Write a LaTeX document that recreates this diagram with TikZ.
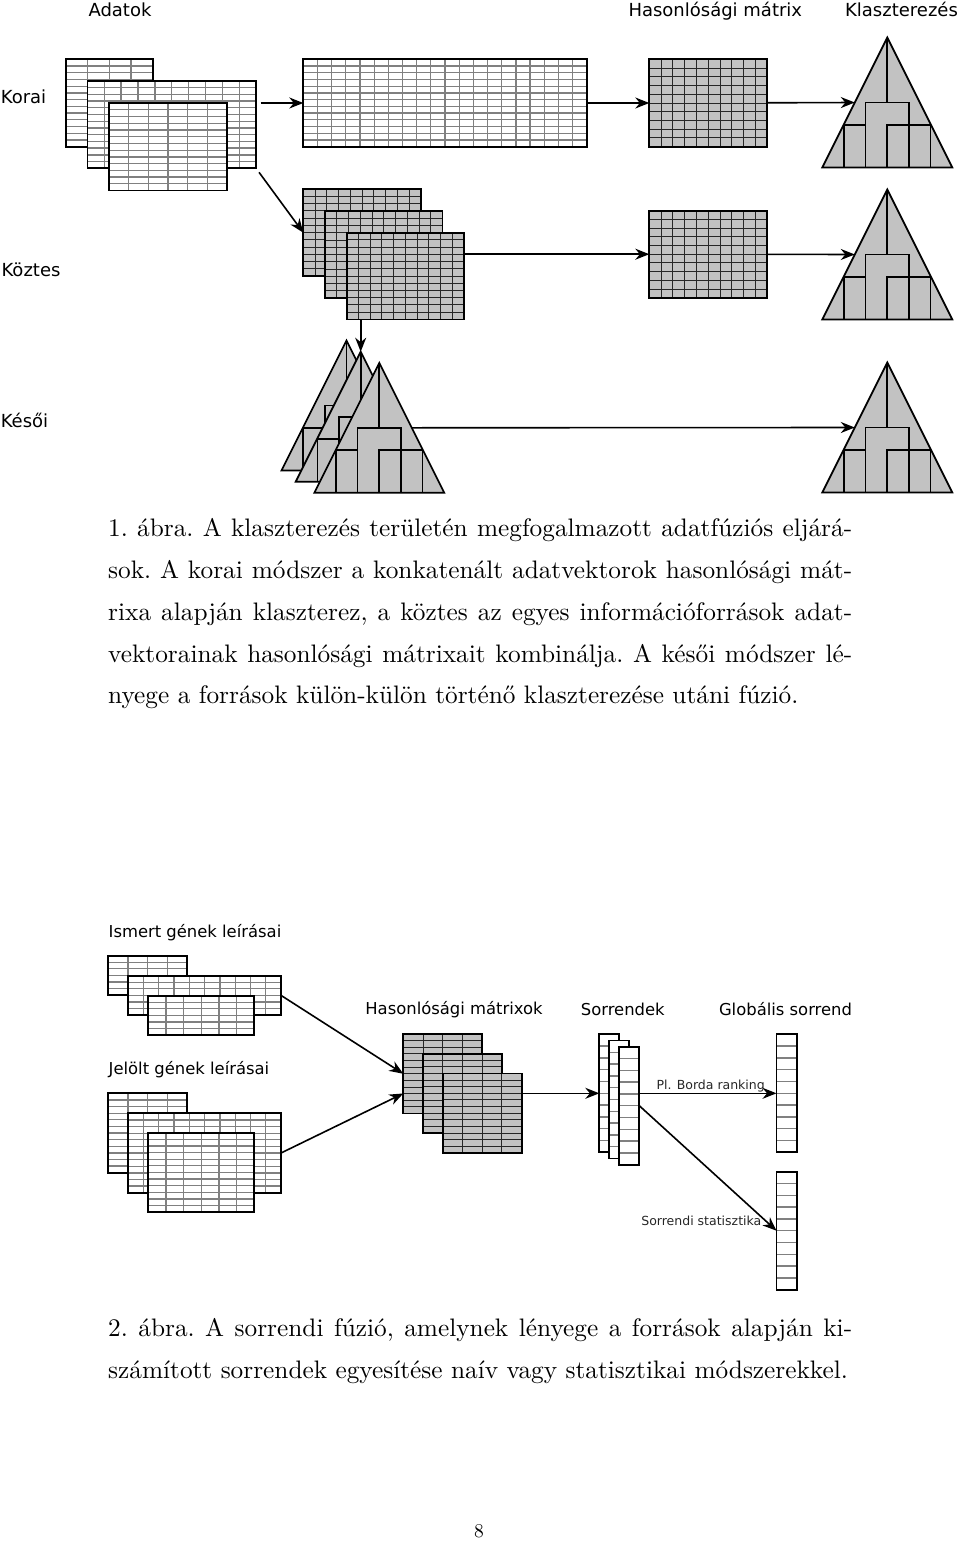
\documentclass[tikz,border=0pt]{standalone}
\usepackage{fontspec}
\usetikzlibrary{calc,positioning,arrows.meta}
\newfontfamily\figfont{DejaVu Sans}
\newfontfamily\capfont{lmroman10-regular}[Extension=.otf]
\definecolor{cellgray}{gray}{0.76}
\definecolor{linegray}{gray}{0.5}

% racsvonalak egy csomopont belsejeben: oszlopok, sorok, vonalstilus
\newcommand{\gridcells}[3]{%
  \foreach \c in {1,...,#1}
    \draw[#3] ($(path picture bounding box.north west)!{\c/#1}!(path picture bounding box.north east)$)
      -- ($(path picture bounding box.south west)!{\c/#1}!(path picture bounding box.south east)$);
  \foreach \r in {1,...,#2}
    \draw[#3] ($(path picture bounding box.north west)!{\r/#2}!(path picture bounding box.south west)$)
      -- ($(path picture bounding box.north east)!{\r/#2}!(path picture bounding box.south east)$);
}

\tikzset{
  box/.style = {draw, line width=1.7pt, inner sep=0pt, outer sep=0pt, anchor=north west},
  tbl/.style 2 args = {box, fill=white, path picture={\gridcells{#1}{#2}{linegray, line width=1.3pt}}},
  mtx/.style 2 args = {box, fill=cellgray, path picture={\gridcells{#1}{#2}{black!85, line width=1pt}}},
  arr/.style = {-{Stealth[length=14pt,width=11pt]}, line width=1.6pt},
  tree/.style = {line width=1.7pt, line join=miter},
  head/.style = {font=\figfont\fontsize{18}{20}\selectfont, inner sep=0pt, anchor=base},
  sub/.style = {font=\figfont\fontsize{16.4}{18}\selectfont, inner sep=0pt, anchor=base},
  note/.style = {font=\figfont\fontsize{12.5}{14}\selectfont, text=black!85, inner sep=0pt},
  caption/.style = {text width=744pt, align=justify, inner sep=0pt, anchor=base west,
    font=\capfont\frenchspacing\fontsize{25.3}{41.8}\selectfont},
  dendro/.pic = {
    \draw[tree, fill=cellgray] (0,0) -- (-65,130) -- (65,130) -- cycle;
    \draw[tree] (0,0) -- (0,65)
      (-21.7,130) |- (21.7,65) -- (21.7,130)
      (-43.3,130) |- (-21.7,87.5)
      (0,130) |- (43.3,87.5) -- (43.3,130);
    \coordinate (-top) at (0,0);
    \coordinate (-in) at (-32.5,65);
    \coordinate (-out) at (32.5,65);
  }
}

\begin{document}
\begin{tikzpicture}[x=1pt, y=-1pt]
  \useasboundingbox (0,0) rectangle (960,1553);

  % 1. abra
  \node[head] (adatok) at (120,16.7) {Adatok};
  \node[head] (hasonl) at (715.3,16.7) {Hasonlósági mátrix};
  \node[head] (klaszt) at (901.5,16.7) {Klaszterezés};
  \node[head] (korai) at (23.5,103.3) {Korai};
  \node[head] (koztes) at (31,276) {Köztes};
  \node[head] (kesoi) at (24.5,427.7) {Késői};

  \node[tbl={4}{13}, minimum width=87pt, minimum height=87.4pt] (k1) at (65.7,59.3) {};
  \node[tbl={10}{13}, minimum width=168.7pt, minimum height=87.4pt] (k2) [below right=21.6pt and 21.7pt of k1.north west] {};
  \node[tbl={6}{13}, minimum width=117.7pt, minimum height=87.4pt] (k3) [below right=22.2pt and 21.7pt of k2.north west] {};
  \node[tbl={20}{13}, minimum width=283.4pt, minimum height=87.4pt] (kon) at (303.3,59.3) {};
  \node[mtx={10}{10}, minimum width=118pt, minimum height=87.4pt] (sim1) at (649.3,59.3) {};

  \node[mtx={10}{12}, minimum width=117.5pt, minimum height=86.7pt] (m1) at (303.3,189.3) {};
  \node[mtx={10}{12}, minimum width=117.5pt, minimum height=86.7pt] (m2) [below right=22pt and 21.7pt of m1.north west] {};
  \node[mtx={10}{12}, minimum width=117.5pt, minimum height=86.7pt] (m3) [below right=21.4pt and 21.7pt of m2.north west] {};
  \node[mtx={10}{10}, minimum width=118pt, minimum height=87pt] (sim2) at (649.3,210.7) {};

  \pic (tri1) at (887.3,37.5) {dendro};
  \pic (tri2) at (887.3,189.5) {dendro};
  \pic (triA) at (346.5,340.5) {dendro};
  \pic (triB) at (360.7,351.7) {dendro};
  \pic (triC) at (379.3,362.8) {dendro};
  \pic (tri3) at (887.3,362.5) {dendro};

  \draw[arr, shorten <=4.5pt] (kon.west -| k2.east) -- (kon.west);
  \draw[arr] (kon) -- (sim1);
  \draw[arr] (sim1) -- (tri1-in);
  \draw[arr, shorten <=5pt] (k2.south east) -- (m1.west);
  \draw[arr] (sim2.west -| m3.east) -- (sim2);
  \draw[arr] (sim2) -- (tri2-in);
  \draw[arr] (m3.south -| triB-top) -- (triB-top);
  \draw[arr] (triC-out) -- (tri3-in);

  \node[caption] (cap1) at (108,536.7) {1.~ábra. A klaszterezés területén megfogalmazott adatfúziós eljárá-\linebreak
    sok. A korai módszer a konkatenált adatvektorok hasonlósági mát-\linebreak
    rixa alapján klaszterez, a köztes az egyes információforrások adat-\linebreak
    vektorainak hasonlósági mátrixait kombinálja. A késői módszer lé-\linebreak
    nyege a források külön-külön történő klaszterezése utáni fúzió.};

  % 2. abra
  \node[sub] (ismert) at (195,937) {Ismert gének leírásai};
  \node[sub] (jelolt) at (189,1074) {Jelölt gének leírásai};
  \node[sub] (hasmx) at (454,1014.5) {Hasonlósági mátrixok};
  \node[sub] (sorr) at (622.8,1015) {Sorrendek};
  \node[sub] (glob) at (785.5,1015) {Globális sorrend};

  \node[tbl={4}{6}, minimum width=79pt, minimum height=39.3pt] (i1) at (108.3,955.7) {};
  \node[tbl={10}{6}, minimum width=152.7pt, minimum height=39.3pt] (i2) [below right=20pt and 20pt of i1.north west] {};
  \node[tbl={6}{6}, minimum width=106pt, minimum height=39.3pt] (i3) [below right=20pt and 20pt of i2.north west] {};

  \node[tbl={4}{12}, minimum width=79pt, minimum height=79.4pt] (j1) at (108.3,1093.3) {};
  \node[tbl={10}{12}, minimum width=152.7pt, minimum height=79.4pt] (j2) [below right=20pt and 20pt of j1.north west] {};
  \node[tbl={6}{12}, minimum width=106pt, minimum height=79.4pt] (j3) [below right=19.4pt and 20pt of j2.north west] {};

  \node[mtx={4}{12}, minimum width=79pt, minimum height=79.5pt] (h1) at (403.3,1034) {};
  \node[mtx={4}{12}, minimum width=79pt, minimum height=79.5pt] (h2) [below right=19.7pt and 19.7pt of h1.north west] {};
  \node[mtx={4}{12}, minimum width=79pt, minimum height=79.5pt] (h3) [below right=19.7pt and 19.7pt of h2.north west] {};

  \node[tbl={1}{10}, minimum width=20pt, minimum height=118pt] (s1) at (599.3,1034.3) {};
  \node[tbl={1}{10}, minimum width=20pt, minimum height=118pt] (s2) [below right=6.2pt and 10pt of s1.north west] {};
  \node[tbl={1}{10}, minimum width=20pt, minimum height=118pt] (s3) [below right=6.2pt and 10pt of s2.north west] {};

  \node[tbl={1}{10}, minimum width=20.3pt, minimum height=118pt] (g1) at (776.5,1034.3) {};
  \node[tbl={1}{10}, minimum width=20.3pt, minimum height=118pt] (g2) at (776.5,1171.7) {};

  \draw[arr] (i2.east) -- (h1.west);
  \draw[arr] (j2.east) -- (h1.west |- h2.west);
  \draw[arr] (h3.east |- s1.west) -- (s1.west);
  \draw[arr] (s3.east |- g1.west) -- node[note, above, pos=0.52] (borda) {Pl. Borda ranking} (g1.west);
  \draw[arr] (s3.east) -- (g2.west);
  \node[note, anchor=base east] (stat) at ([xshift=-15pt, yshift=4.8pt]g2.west) {Sorrendi statisztika};

  \node[caption] (cap2) at (108,1336.5) {2.~ábra. A sorrendi fúzió, amelynek lényege a források alapján ki-\linebreak
    számított sorrendek egyesítése naív vagy statisztikai módszerekkel.};

  \node[anchor=base, font=\capfont\fontsize{19.5}{22}\selectfont] (oldal) at (479,1537.7) {8};
\end{tikzpicture}
\end{document}
